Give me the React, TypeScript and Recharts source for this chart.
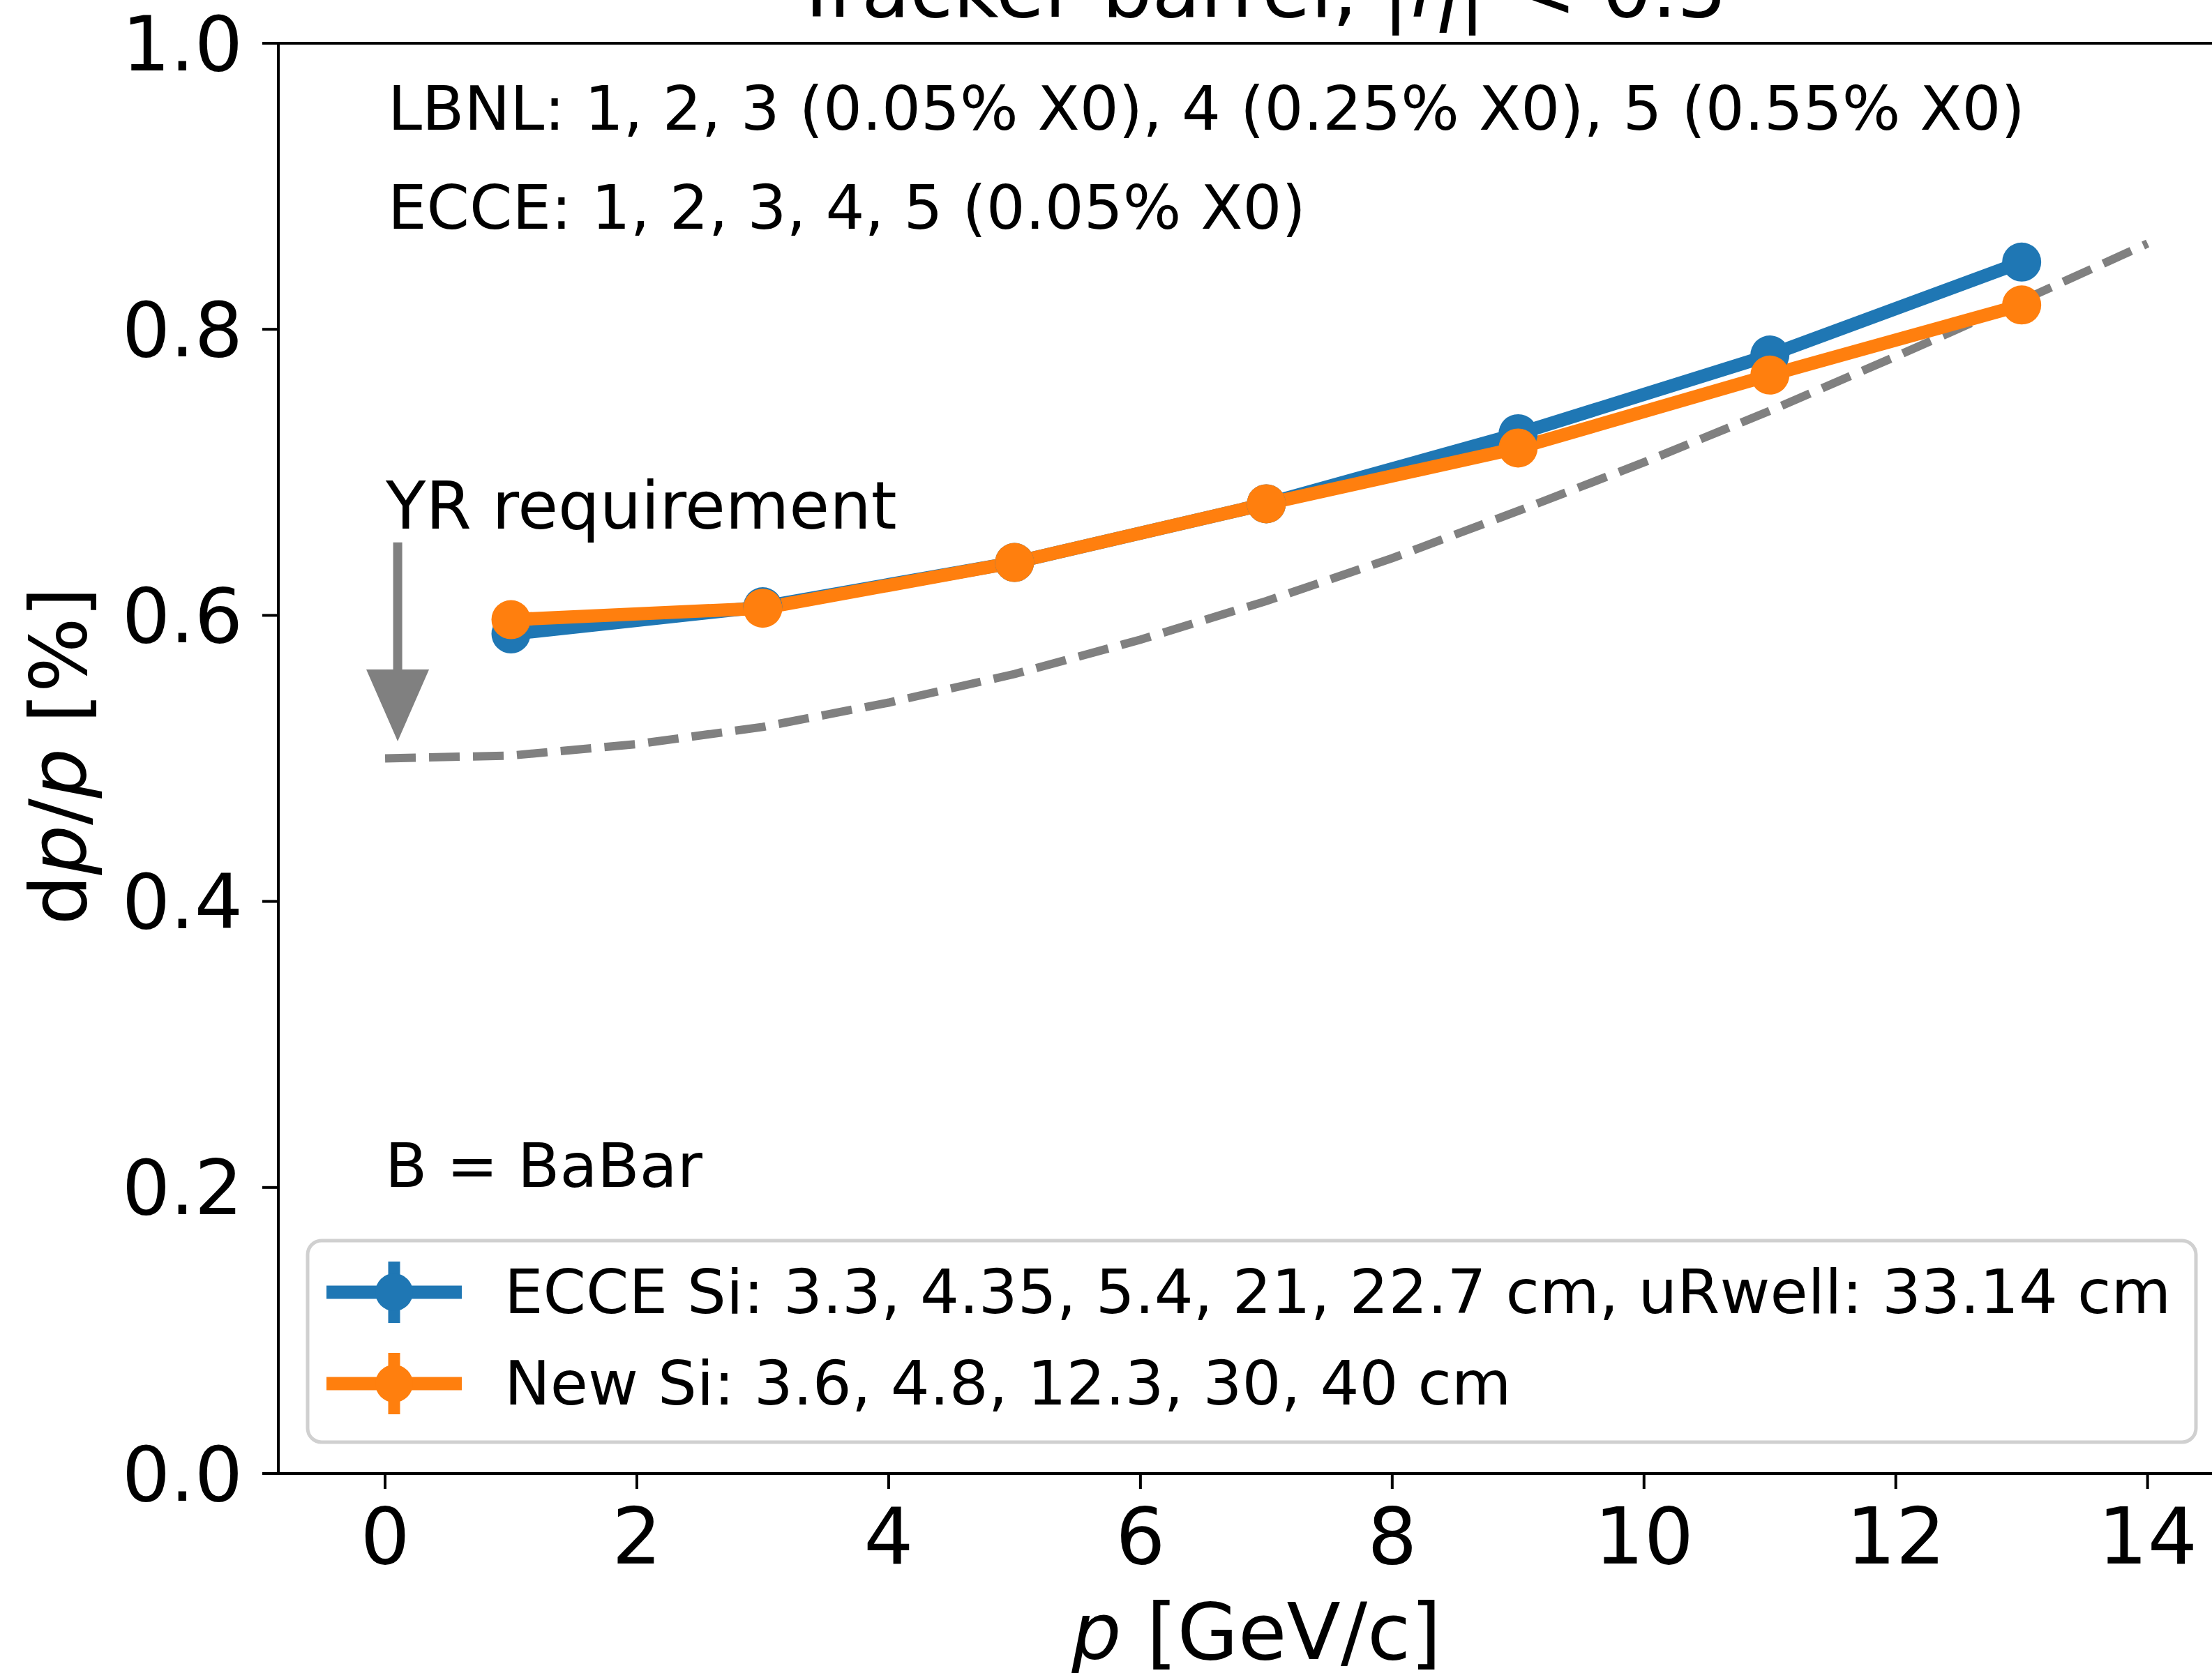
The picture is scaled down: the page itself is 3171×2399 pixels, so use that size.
import React from 'react';
import { ComposedChart, Line, XAxis, YAxis, ReferenceLine, ReferenceDot } from 'recharts';

// momentum points (GeV/c) for the YR requirement curve
const pGrid = [0, 1, 2, 3, 4, 5, 6, 7, 8, 9, 10, 11, 12, 13, 14];
const yrRequirement = [0.5, 0.502, 0.51, 0.522, 0.539, 0.559, 0.583, 0.61, 0.64, 0.673, 0.707, 0.743, 0.781, 0.82, 0.86];

// simulated points
const pMeasured = [1, 3, 5, 7, 9, 11, 13];
const ecceSi = [0.587, 0.606, 0.637, 0.678, 0.727, 0.782, 0.847];
const newSi = [0.597, 0.605, 0.637, 0.678, 0.717, 0.768, 0.817];

const xTicks = [0, 2, 4, 6, 8, 10, 12, 14];
const yTicks = [0, 0.2, 0.4, 0.6, 0.8, 1.0];
const xDomain = [-0.848, 14.75];

// YR arrow annotation (data coords)
const arrowX = 0.1;
const arrowTail = 0.651;
const arrowHeadBase = 0.559;
const arrowTip = 0.512;

const annotations = [
    'LBNL: 1, 2, 3 (0.05% X0), 4 (0.25% X0), 5 (0.55% X0)',
    'ECCE: 1, 2, 3, 4, 5 (0.05% X0)',
];
const legendLabels = [
    'ECCE Si: 3.3, 4.35, 5.4, 21, 22.7 cm, uRwell: 33.14 cm',
    'New Si: 3.6, 4.8, 12.3, 30, 40 cm',
];

const BLUE = '#1f77b4';
const ORANGE = '#ff7f0e';
const GRAY = '#808080';
const FONT = '"DejaVu Sans", sans-serif';

const data = pGrid.map((p, i) => {
    const k = pMeasured.indexOf(p);
    return {
        p,
        yr: yrRequirement[i],
        ecce: k >= 0 ? ecceSi[k] : null,
        newSi: k >= 0 ? newSi[k] : null,
    };
});

const ArrowHead = (props: any) => {
    const { cx, cy } = props;
    if (cx == null || cy == null) return null;
    return <polygon points={`${cx - 45},${cy - 103} ${cx + 45},${cy - 103} ${cx},${cy}`} fill={GRAY} />;
};

const xTickStyle = { fill: '#000', fontSize: 112, fontFamily: FONT };
const yTickStyle = { fill: '#000', fontSize: 109, fontFamily: FONT };
const axisStroke = { stroke: '#000', strokeWidth: 4 };

function LegendRow({ y, color, label }: { y: number; color: string; label: string }) {
    return (
        <g>
            <line x1={468} x2={662} y1={y} y2={y} stroke={color} strokeWidth={19} />
            <line x1={565} x2={565} y1={y - 44} y2={y + 44} stroke={color} strokeWidth={17} />
            <circle cx={565} cy={y} r={27} fill={color} />
            <text x={723} y={y + 30} fontSize={88} fontFamily={FONT} fill="#000">
                {label}
            </text>
        </g>
    );
}

export default function App() {
    return (
        <div style={{ position: 'absolute', left: 0, top: 0, width: 3171, height: 2399, overflow: 'hidden', background: '#fff' }}>
            <ComposedChart width={3300} height={2399} data={data} margin={{ top: 62, right: 86, bottom: 0, left: 0 }}>
                <XAxis
                    dataKey="p"
                    type="number"
                    domain={xDomain}
                    ticks={xTicks}
                    interval={0}
                    height={286}
                    tickSize={22}
                    tickMargin={27}
                    tick={xTickStyle}
                    axisLine={axisStroke}
                    tickLine={axisStroke}
                />
                <YAxis
                    type="number"
                    domain={[0, 1]}
                    ticks={yTicks}
                    interval={0}
                    width={399}
                    tickSize={23}
                    tickMargin={28}
                    tick={yTickStyle}
                    tickFormatter={(v: number) => v.toFixed(1)}
                    axisLine={axisStroke}
                    tickLine={axisStroke}
                />
                <ReferenceLine y={1} stroke="#000" strokeWidth={4} />
                <ReferenceLine x={xDomain[1]} stroke="#000" strokeWidth={4} />
                <ReferenceLine
                    segment={[{ x: arrowX, y: arrowTail }, { x: arrowX, y: arrowHeadBase }]}
                    stroke={GRAY}
                    strokeWidth={13}
                />
                <ReferenceDot x={arrowX} y={arrowTip} r={1} shape={ArrowHead} />
                <Line
                    dataKey="yr"
                    type="linear"
                    stroke={GRAY}
                    strokeWidth={12}
                    strokeDasharray="44 19"
                    dot={false}
                    activeDot={false}
                    isAnimationActive={false}
                />
                <Line
                    dataKey="ecce"
                    type="linear"
                    stroke={BLUE}
                    strokeWidth={19}
                    strokeLinejoin="round"
                    connectNulls
                    dot={{ r: 28, fill: BLUE, stroke: 'none' }}
                    activeDot={false}
                    isAnimationActive={false}
                />
                <Line
                    dataKey="newSi"
                    type="linear"
                    stroke={ORANGE}
                    strokeWidth={19}
                    strokeLinejoin="round"
                    connectNulls
                    dot={{ r: 28, fill: ORANGE, stroke: 'none' }}
                    activeDot={false}
                    isAnimationActive={false}
                />
            </ComposedChart>
            <svg width={3171} height={2399} style={{ position: 'absolute', left: 0, top: 0, pointerEvents: 'none' }}>
                <text x={1806} y={24} textAnchor="middle" fontSize={113} fontFamily={FONT} fill="#000">
                    Tracker barrel, |<tspan fontStyle="italic">η</tspan>| &lt; 0.5
                </text>
                <text x={556} y={186} fontSize={88} fontFamily={FONT} fill="#000">{annotations[0]}</text>
                <text x={556} y={328} fontSize={88} fontFamily={FONT} fill="#000">{annotations[1]}</text>
                <text x={553} y={758} fontSize={94} fontFamily={FONT} fill="#000">YR requirement</text>
                <text x={552} y={1702} fontSize={88} fontFamily={FONT} fill="#000">B = BaBar</text>
                <text x={1801} y={2379} textAnchor="middle" fontSize={113} fontFamily={FONT} fill="#000">
                    <tspan fontStyle="italic">p</tspan> [GeV/c]
                </text>
                <text
                    transform="translate(123,1084) rotate(-90)"
                    textAnchor="middle"
                    fontSize={113}
                    fontFamily={FONT}
                    fill="#000"
                >
                    d<tspan fontStyle="italic">p</tspan>/<tspan fontStyle="italic">p</tspan> [%]
                </text>
                <rect x={441} y={1779} width={2707} height={289} rx={20} fill="rgba(255,255,255,0.8)" stroke="#d0d0d0" strokeWidth={5} />
                <LegendRow y={1853} color={BLUE} label={legendLabels[0]} />
                <LegendRow y={1984} color={ORANGE} label={legendLabels[1]} />
            </svg>
        </div>
    );
}
